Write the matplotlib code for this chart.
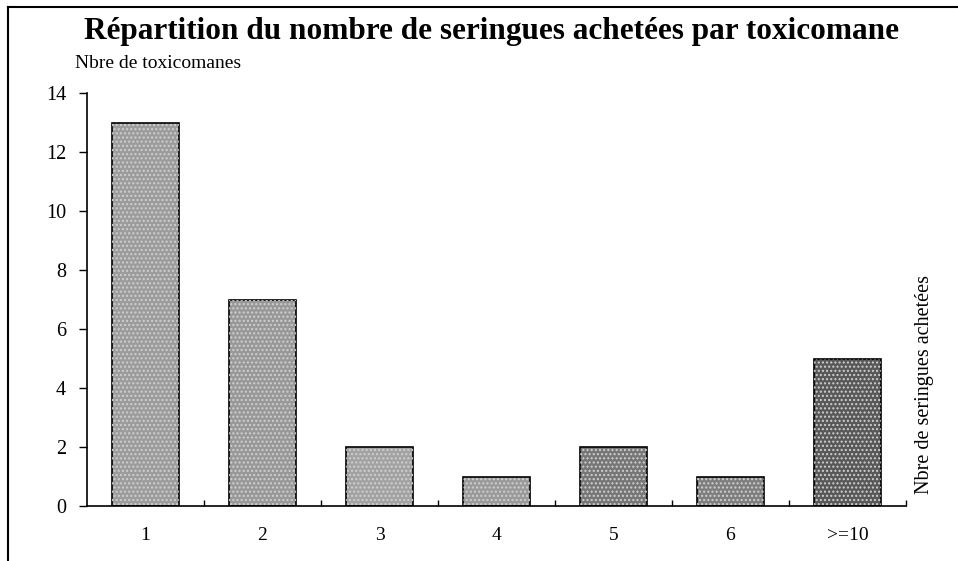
import matplotlib
matplotlib.use("Agg")
import matplotlib.pyplot as plt
from matplotlib.lines import Line2D

# donnees
categories = ["1", "2", "3", "4", "5", "6", ">=10"]
nb_toxicomanes = [13, 7, 2, 1, 2, 1, 5]
bar_colors = ["#9c9c9c", "#989898", "#a2a2a2", "#9a9a9a", "#767676", "#7e7e7e", "#585858"]
y_ticks = [0, 2, 4, 6, 8, 10, 12, 14]

plt.rcParams['font.family'] = ['Liberation Serif', 'DejaVu Serif']

W, H = 958, 561
fig = plt.figure(figsize=(W / 100, H / 100), dpi=100)
ax = fig.add_axes([87 / W, (H - 506) / H, (906 - 87) / W, (506 - 93) / H])

x = list(range(len(categories)))
ax.bar(x, nb_toxicomanes, width=0.57, color=bar_colors, edgecolor="black", linewidth=1.2)
# texture granuleuse des barres (scan)
ax.bar(x, nb_toxicomanes, width=0.57, facecolor="none", edgecolor="#d0d0d0",
       hatch="....", linewidth=0)

ax.set_xlim(-0.5, len(categories) - 0.5)
ax.set_ylim(0, 14)
ax.set_yticks(y_ticks)
ax.set_yticklabels([str(v) for v in y_ticks], fontsize=14.5)
ax.tick_params(axis="y", direction="out", length=6, width=1, pad=9)

ax.set_xticks(x)
ax.set_xticklabels(categories, fontsize=14)
ax.tick_params(axis="x", length=0, pad=15)
ax.set_xticks([i + 0.5 for i in x], minor=True)
ax.tick_params(axis="x", which="minor", direction="in", length=4, width=1)

for s in ["top", "right"]:
    ax.spines[s].set_visible(False)
for s in ["left", "bottom"]:
    ax.spines[s].set_linewidth(1.2)

fig.text(491 / W, 1 - 31 / H, "Répartition du nombre de seringues achetées par toxicomane",
         ha="center", va="center", fontsize=22.5, fontweight="bold")
fig.text(75 / W, 1 - 64 / H, "Nbre de toxicomanes", ha="left", va="center", fontsize=14)
fig.text(925 / W, 1 - 384 / H, "Nbre de seringues achetées", ha="center", va="center",
         rotation=90, fontsize=14.5)

# cadre du document
fig.add_artist(Line2D([8 / W, 1], [1 - 7 / H, 1 - 7 / H], color="black", linewidth=1.5))
fig.add_artist(Line2D([8 / W, 8 / W], [0, 1 - 7 / H], color="black", linewidth=1.5))

fig.savefig("out.png", dpi=100)
